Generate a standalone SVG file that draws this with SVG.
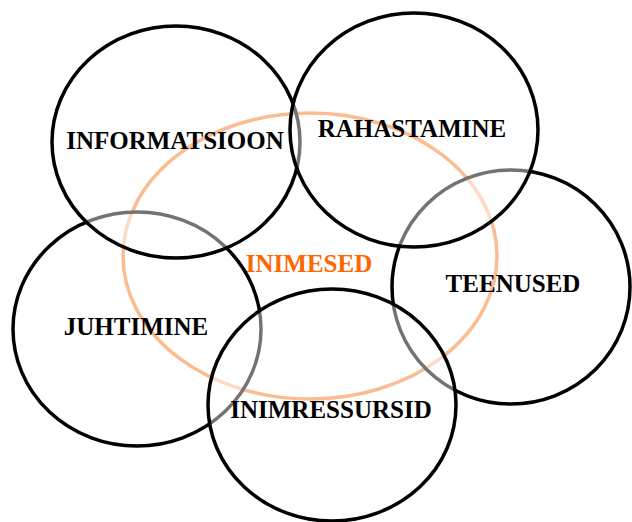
<svg xmlns="http://www.w3.org/2000/svg" width="632" height="522" viewBox="0 0 632 522">
<style>
.c{fill:#fff;fill-opacity:0.45;stroke:#000;stroke-width:3.5}
.o{fill:none;stroke:#f7863a;stroke-width:3.5}
.t{font-family:"Liberation Serif","Times New Roman",serif;font-weight:bold;font-size:25px;text-anchor:middle;fill:#000}
.to{fill:#ff6600}
</style>
<rect width="632" height="522" fill="#fff"/>
<g id="inimesed">
<ellipse class="o" cx="310" cy="256" rx="187" ry="143"/>
<text class="t to" x="309" y="272">INIMESED</text>
</g>
<g id="juhtimine">
<ellipse class="c" cx="137" cy="329" rx="124" ry="117"/>
<text class="t" x="136" y="335">JUHTIMINE</text>
</g>
<g id="teenused">
<ellipse class="c" cx="511" cy="287" rx="119" ry="117"/>
<text class="t" x="513" y="292">TEENUSED</text>
</g>
<g id="inimressursid">
<ellipse class="c" cx="332" cy="405" rx="124" ry="116"/>
<text class="t" x="331" y="418">INIMRESSURSID</text>
</g>
<g id="informatsioon">
<ellipse class="c" cx="176" cy="142" rx="124" ry="116"/>
<text class="t" x="175" y="149">INFORMATSIOON</text>
</g>
<g id="rahastamine">
<ellipse class="c" cx="414" cy="130" rx="124" ry="117"/>
<text class="t" x="412" y="137">RAHASTAMINE</text>
</g>
<g id="connectors"></g>
</svg>
